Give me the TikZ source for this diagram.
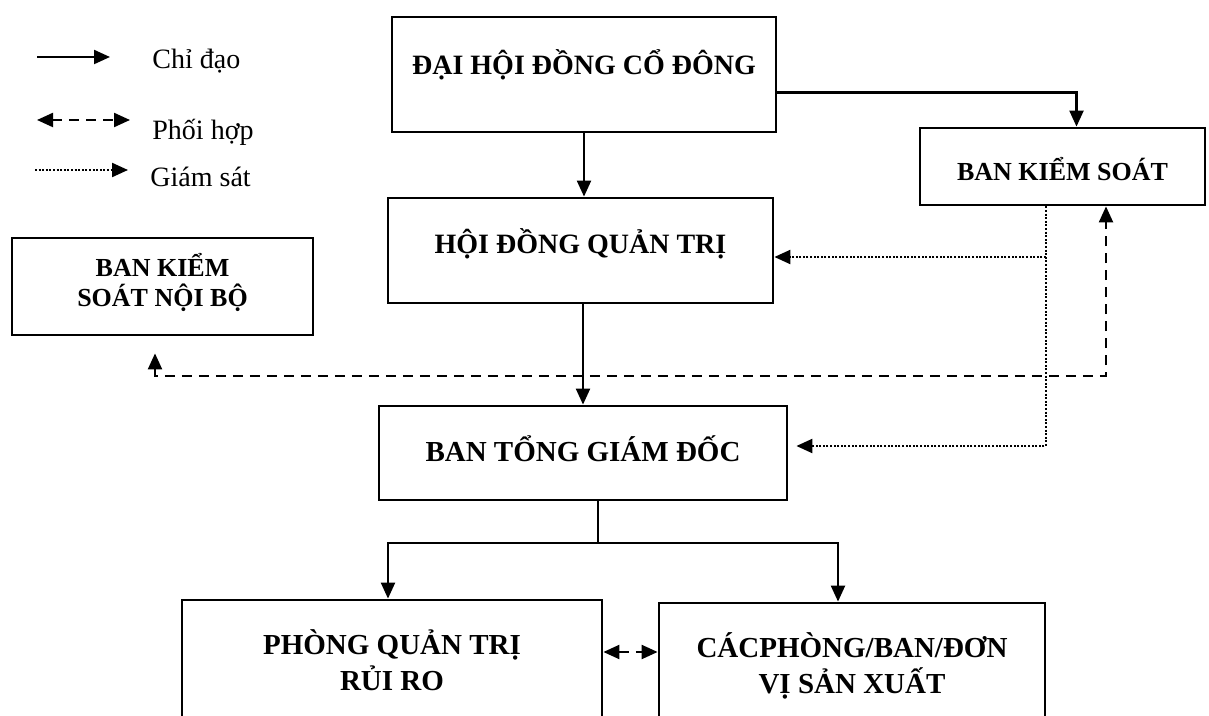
\documentclass[tikz,border=0pt]{standalone}
\usepackage{fontspec}
\setmainfont{Liberation Serif}
\usetikzlibrary{arrows.meta,positioning}
\tikzstyle{unit} = [rectangle, draw, line width=1.4pt, align=center, inner sep=0pt, font=\bfseries\fontsize{14}{18}\selectfont]
\tikzstyle{keytext} = [anchor=base west, inner sep=0pt, font=\fontsize{14}{17}\selectfont]
\tikzstyle{link} = [line width=1.1pt]
\tikzstyle{lead} = [link, -{Triangle[length=8pt,width=7pt]}]
\tikzstyle{coop} = [link, dash pattern=on 5pt off 3.5pt, {Triangle[length=8pt,width=7pt]}-{Triangle[length=8pt,width=7pt]}]
\tikzstyle{watch} = [link, dash pattern=on 1pt off 0.8pt, -{Triangle[length=8pt,width=7pt]}]

\begin{document}
\begin{tikzpicture}[x=0.5pt, y=-0.5pt]
\useasboundingbox (0,0) rectangle (1209,716);
\clip (0,0) rectangle (1209,716);
\fill[white] (0,0) rectangle (1209,716);
% Legend
\node (kchi) [keytext] at (152,69) {Chỉ đạo};
\node (kphoi) [keytext] at (152,140) {Phối hợp};
\node (kgiam) [keytext] at (150,187) {Giám sát};
\coordinate (k1s) at (37,57);
\coordinate (k1e) at (110,57);
\coordinate (k2s) at (37,120);
\coordinate (k2e) at (130,120);
\coordinate (k3s) at (35,170);
\coordinate (k3e) at (128,170);
\draw[lead] (k1s) -- (k1e);
\draw[coop] (k2s) -- (k2e);
\draw[watch] (k3s) -- (k3e);

% Governing bodies
\node (dhdcd) [unit, minimum width=192pt, minimum height=57.5pt, text height=12pt, text depth=12.25pt] at (584,74.5) {ĐẠI HỘI ĐỒNG CỔ ĐÔNG};
\node (hdqt) [unit, minimum width=192.5pt, minimum height=52.5pt, text height=12pt, text depth=9.25pt] at (580.5,250.5) {HỘI ĐỒNG QUẢN TRỊ};
\node (bks) [unit, font=\bfseries\fontsize{13}{15}\selectfont, minimum width=142.5pt, minimum height=38.5pt, text height=14pt, text depth=0.4pt] at (1062.5,166.5) {BAN KIỂM SOÁT};
\node (bksnb) [unit, font=\bfseries\fontsize{13}{15}\selectfont, minimum width=150.5pt, minimum height=48.5pt] at (162.5,286.5) {BAN KIỂM\\SOÁT NỘI BỘ\rule[-6.5pt]{0pt}{0pt}};
\node (btgd) [unit, font=\bfseries\fontsize{14.5}{18}\selectfont, minimum width=204pt, minimum height=47pt, text height=12pt, text depth=3.75pt] at (583,453) {BAN TỔNG GIÁM ĐỐC};

% Units
\node (pqtrr) [unit, font=\bfseries\fontsize{14.5}{18}\selectfont, minimum width=210pt, minimum height=60pt] at (392,660) {PHÒNG QUẢN TRỊ\\RỦI RO};
\node (cpb) [unit, font=\bfseries\fontsize{14.5}{18}\selectfont, minimum width=193pt, minimum height=63pt] at (852,666) {CÁCPHÒNG/BAN/ĐƠN\\VỊ SẢN XUẤT};

% Direction
\draw[lead] (dhdcd.south) -- (dhdcd.south |- hdqt.north);
\draw[lead] ([yshift=-9pt]dhdcd.east) -| ([xshift=7pt]bks.north);
\draw[lead] (hdqt.south -| btgd.north) -- (btgd.north);
\coordinate (br) at (598,543);
\draw[link] (br |- btgd.south) -- (br);
\draw[lead] (br) -| ([xshift=-2pt]pqtrr.north);
\draw[lead] (br) -| ([xshift=-7pt]cpb.north);

% Supervision
\coordinate (sv) at ([xshift=-8.25pt]bks.south);
\coordinate (hq) at ([yshift=-3.25pt]hdqt.east);
\draw[watch] (sv) |- ([xshift=4pt,yshift=3.5pt]btgd.east);
\draw[watch] (hq -| sv) -- (hq);

% Coordination
\coordinate (dj) at (600,376);
\draw[coop, shorten <=8.5pt] ([xshift=-3.75pt]bksnb.south) |- (dj) -| ([xshift=21.75pt]bks.south);
\coordinate (pc) at ([yshift=4pt]pqtrr.east);
\draw[coop] (pc) -- (pc -| cpb.west);
\end{tikzpicture}
\end{document}
